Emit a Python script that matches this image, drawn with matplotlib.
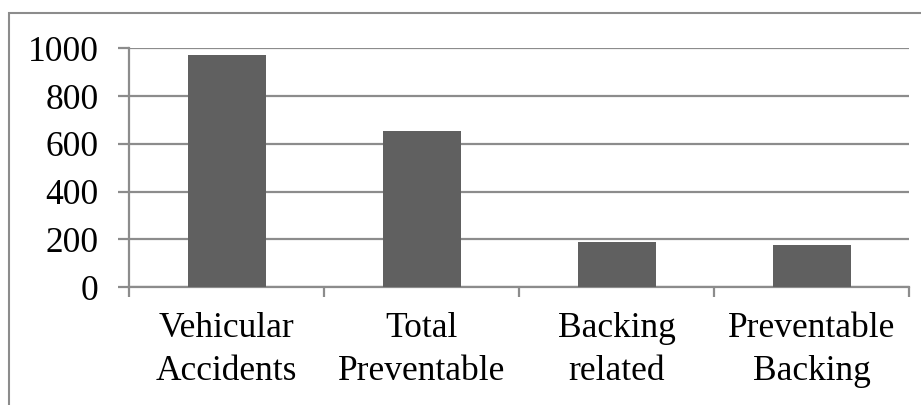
import matplotlib
matplotlib.use("Agg")
import matplotlib.pyplot as plt
from matplotlib.patches import Rectangle

categories = ["Vehicular\nAccidents", "Total\nPreventable", "Backing\nrelated", "Preventable\nBacking"]
counts = [970, 655, 190, 175]
y_ticks = [0, 200, 400, 600, 800, 1000]

GRID = "#8c8c8c"
BAR = "#606060"
FS = 25.5

plt.rcParams["font.family"] = ["Liberation Serif", "DejaVu Serif"]

fig = plt.figure(figsize=(9.21, 4.05), dpi=100)
ax = fig.add_axes([129 / 921, 1 - 287 / 405, 780 / 921, (287 - 48.3) / 405])

x = list(range(len(categories)))
ax.bar(x, counts, width=0.4, color=BAR, zorder=3)

ax.set_xlim(-0.5, len(categories) - 0.5)
ax.set_ylim(0, 1000)
ax.set_yticks(y_ticks)
ax.set_yticklabels([str(v) for v in y_ticks])
ax.yaxis.grid(True, color=GRID, linewidth=1.6, zorder=0)

# category labels sit between boundary ticks
ax.set_xticks([i - 0.5 for i in range(len(categories) + 1)])
ax.set_xticklabels([])
ax.set_xticks(x, minor=True)
ax.set_xticklabels(categories, minor=True, fontsize=FS, linespacing=1.38)
ax.tick_params(axis="x", which="minor", length=0, pad=18)
ax.tick_params(axis="x", which="major", length=7.5, width=1.6, color=GRID, direction="out")
ax.tick_params(axis="y", length=8, width=1.6, color=GRID, direction="out", pad=14, labelsize=FS)

for side in ("top", "right"):
    ax.spines[side].set_visible(False)
for side in ("left", "bottom"):
    ax.spines[side].set_color(GRID)
    ax.spines[side].set_linewidth(1.6)

# chart area frame
fig.patches.append(Rectangle((8.5 / 921, -0.2), 1.2, 1 - 13.5 / 405 + 0.2,
                             transform=fig.transFigure, fill=False,
                             edgecolor=GRID, linewidth=1.5, clip_on=False))

fig.savefig("out.png", dpi=100)
